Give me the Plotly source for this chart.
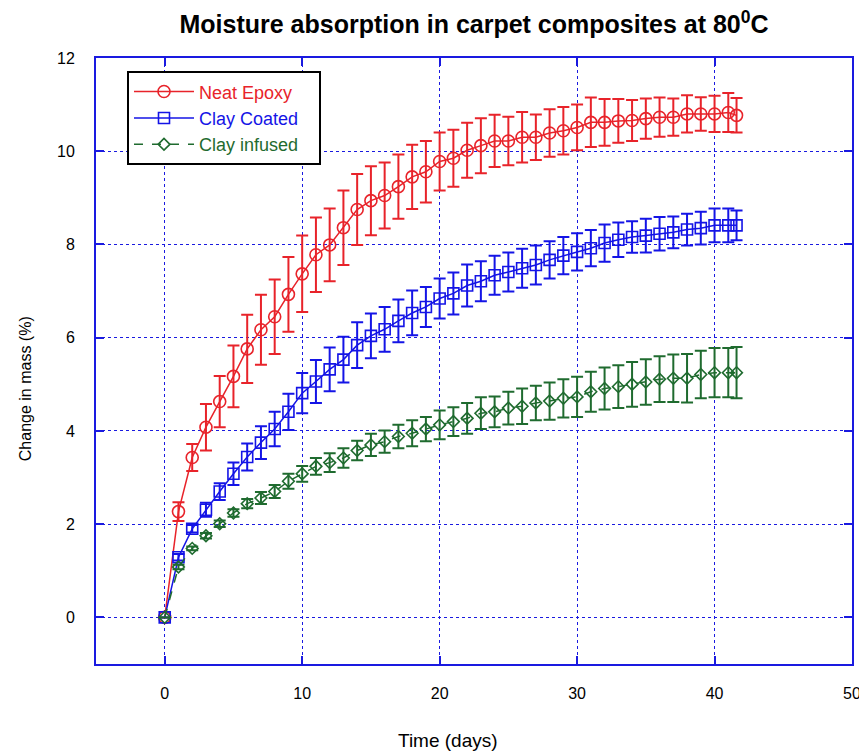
import plotly.graph_objects as go

days = [0, 1, 2, 3, 4, 5, 6, 7, 8, 9, 10, 11, 12, 13, 14, 15, 16, 17, 18, 19, 20,
        21, 22, 23, 24, 25, 26, 27, 28, 29, 30, 31, 32, 33, 34, 35, 36, 37, 38, 39,
        40, 41, 41.6]

neat_epoxy = [0, 2.27, 3.43, 4.08, 4.63, 5.17, 5.76, 6.17, 6.45, 6.93, 7.37, 7.78, 7.99,
              8.36, 8.75, 8.94, 9.05, 9.24, 9.45, 9.56, 9.78, 9.85, 10.02, 10.12, 10.22,
              10.22, 10.30, 10.30, 10.39, 10.44, 10.51, 10.62, 10.62, 10.65, 10.66, 10.70,
              10.73, 10.73, 10.80, 10.80, 10.80, 10.83, 10.77]
neat_err = [0, 0.20, 0.29, 0.50, 0.55, 0.66, 0.73, 0.75, 0.80, 0.80, 0.82, 0.80, 0.78,
            0.80, 0.76, 0.74, 0.71, 0.69, 0.69, 0.66, 0.62, 0.61, 0.59, 0.59, 0.56,
            0.52, 0.54, 0.49, 0.51, 0.51, 0.49, 0.53, 0.50, 0.47, 0.44, 0.43, 0.42,
            0.40, 0.40, 0.36, 0.39, 0.42, 0.37]

clay_coated = [0, 1.29, 1.90, 2.31, 2.70, 3.08, 3.44, 3.75, 4.04, 4.41, 4.81, 5.06, 5.32,
               5.53, 5.84, 6.04, 6.18, 6.36, 6.53, 6.66, 6.84, 6.95, 7.12, 7.21, 7.34,
               7.41, 7.49, 7.56, 7.67, 7.76, 7.84, 7.92, 8.03, 8.10, 8.16, 8.19, 8.23,
               8.26, 8.32, 8.35, 8.41, 8.41, 8.41]
coated_err = [0, 0.07, 0.08, 0.15, 0.18, 0.24, 0.29, 0.35, 0.37, 0.39, 0.43, 0.46, 0.47,
              0.49, 0.49, 0.48, 0.48, 0.46, 0.48, 0.43, 0.43, 0.45, 0.45, 0.43, 0.42,
              0.42, 0.42, 0.42, 0.40, 0.40, 0.40, 0.39, 0.40, 0.37, 0.34, 0.36, 0.36,
              0.34, 0.34, 0.35, 0.36, 0.36, 0.32]

clay_infused = [0, 1.08, 1.48, 1.75, 2.01, 2.24, 2.44, 2.56, 2.70, 2.92, 3.08, 3.24, 3.32,
                3.42, 3.58, 3.70, 3.77, 3.88, 3.95, 4.04, 4.13, 4.20, 4.27, 4.38, 4.41,
                4.49, 4.53, 4.60, 4.64, 4.70, 4.73, 4.84, 4.91, 4.95, 5.00, 5.05, 5.11,
                5.13, 5.13, 5.21, 5.25, 5.25, 5.25]
infused_err = [0, 0.05, 0.04, 0.06, 0.07, 0.08, 0.10, 0.13, 0.14, 0.16, 0.17, 0.18, 0.20,
               0.21, 0.21, 0.24, 0.24, 0.25, 0.28, 0.26, 0.31, 0.31, 0.33, 0.34, 0.33,
               0.35, 0.38, 0.37, 0.40, 0.41, 0.43, 0.43, 0.45, 0.46, 0.48, 0.49, 0.49,
               0.51, 0.52, 0.51, 0.53, 0.53, 0.55]

x_ticks = [0, 10, 20, 30, 40, 50]
y_ticks = [0, 2, 4, 6, 8, 10, 12]

RED = "#E8232A"
BLUE = "#1414E6"
GREEN = "#1F6B2F"
AXIS_BLUE = "#1A1AE0"
FONT = "Liberation Sans, Arial, sans-serif"

fig = go.Figure()

series = [
    ("Neat Epoxy", neat_epoxy, neat_err, RED, "circle-open", 12, "solid"),
    ("Clay Coated", clay_coated, coated_err, BLUE, "square-open", 11, "solid"),
    ("Clay infused", clay_infused, infused_err, GREEN, "diamond-open", 9, "dash"),
]

for name, vals, errs, col, sym, size, dash in series:
    fig.add_trace(go.Scatter(
        x=days, y=vals,
        mode="lines+markers",
        name=f'<span style="color:{col}">{name}</span>\u00a0\u00a0\u00a0',
        line=dict(color=col, width=1.5, dash=dash),
        marker=dict(symbol=sym, size=size, color=col, line=dict(width=1.6, color=col)),
        error_y=dict(type="data", array=errs, visible=True, color=col,
                     thickness=2, width=6),
    ))

fig.update_layout(
    width=859, height=747,
    paper_bgcolor="white", plot_bgcolor="white",
    margin=dict(l=88, r=15, t=50, b=91, autoexpand=False),
    title=dict(text="<b>Moisture absorption in carpet composites at 80<sup>0</sup>C</b>",
               x=0.5, xref="paper", xanchor="center", y=0.978, yref="container",
               yanchor="middle",
               font=dict(family=FONT, size=25, color="black")),
    font=dict(family=FONT, size=16, color="black"),
    legend=dict(x=0.041, y=0.978, xanchor="left", yanchor="top",
                bgcolor="white", bordercolor="black", borderwidth=2,
                font=dict(family=FONT, size=18),
                tracegroupgap=0, itemwidth=60),
    showlegend=True,
    annotations=[
        dict(text="Time (days)", xref="paper", yref="paper", x=0.4656, y=-0.127,
             xanchor="center", yanchor="middle", showarrow=False,
             font=dict(family=FONT, size=19, color="black")),
        dict(text="Change in mass (%)", xref="paper", yref="paper", x=-0.094, y=0.455,
             xanchor="center", yanchor="middle", textangle=-90, showarrow=False,
             font=dict(family=FONT, size=16, color="black")),
    ],
)

fig.update_xaxes(
    range=[-5, 50], tickvals=x_ticks, ticktext=[str(v) for v in x_ticks],
    showline=True, linecolor=AXIS_BLUE, linewidth=2, mirror="allticks",
    ticks="inside", ticklen=8, tickwidth=1.5, tickcolor=AXIS_BLUE,
    showgrid=True, gridcolor=AXIS_BLUE, griddash="dot", gridwidth=1,
    zeroline=False, automargin=False,
    tickfont=dict(family=FONT, size=16), ticklabelstandoff=14,
)
fig.update_yaxes(
    range=[-1, 12], tickvals=y_ticks, ticktext=[str(v) for v in y_ticks],
    showline=True, linecolor=AXIS_BLUE, linewidth=2, mirror="allticks",
    ticks="inside", ticklen=8, tickwidth=1.5, tickcolor=AXIS_BLUE,
    showgrid=True, gridcolor=AXIS_BLUE, griddash="dot", gridwidth=1,
    zeroline=False, automargin=False,
    tickfont=dict(family=FONT, size=16), ticklabelstandoff=16,
)

fig.write_html("out.html")
